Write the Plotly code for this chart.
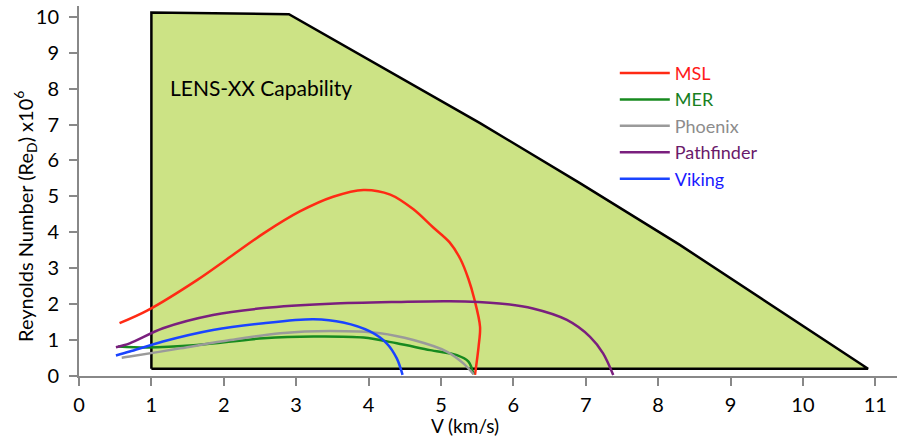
import plotly.graph_objects as go

# Capability envelope (LENS-XX)
cap_v = [1.0, 1.0, 2.9, 4.16, 5.54, 6.92, 8.30, 10.9, 1.0]
cap_re = [0.2, 10.12, 10.07, 8.62, 7.04, 5.37, 3.65, 0.2, 0.2]

msl_v = [0.56, 0.94, 1.63, 2.09, 2.55, 3.05, 3.51, 3.93, 4.30, 4.62, 4.89, 5.12, 5.27, 5.38, 5.46, 5.54, 5.52, 5.47]
msl_re = [1.47, 1.82, 2.67, 3.32, 3.97, 4.58, 4.99, 5.18, 5.05, 4.64, 4.14, 3.72, 3.25, 2.70, 2.15, 1.37, 0.82, 0.03]

mer_v = [0.54, 0.94, 1.63, 2.55, 3.24, 3.93, 4.39, 4.85, 5.22, 5.38, 5.45]
mer_re = [0.82, 0.79, 0.86, 1.05, 1.10, 1.07, 0.91, 0.72, 0.58, 0.40, 0.05]

phx_v = [0.59, 0.70, 1.40, 2.09, 2.78, 3.47, 4.16, 4.62, 5.08, 5.31, 5.45]
phx_re = [0.51, 0.54, 0.77, 1.00, 1.19, 1.25, 1.19, 1.00, 0.68, 0.35, 0.05]

pf_v = [0.51, 0.70, 1.16, 1.85, 2.55, 3.47, 4.39, 5.12, 5.81, 6.27, 6.74, 7.06, 7.24, 7.38]
pf_re = [0.80, 0.91, 1.33, 1.70, 1.89, 2.01, 2.06, 2.08, 2.02, 1.88, 1.56, 1.09, 0.63, 0.03]

vik_v = [0.51, 0.70, 1.16, 1.85, 2.55, 3.24, 3.65, 4.02, 4.25, 4.39, 4.47]
vik_re = [0.57, 0.68, 0.96, 1.28, 1.47, 1.58, 1.49, 1.24, 0.91, 0.49, 0.03]

x_ticks = list(range(0, 12))
y_ticks = list(range(0, 11))

series = [
    ("MSL", msl_v, msl_re, "#ff2a14", "#ff1a1a"),
    ("MER", mer_v, mer_re, "#178a1f", "#17801f"),
    ("Phoenix", phx_v, phx_re, "#9a9a9a", "#8c8c8c"),
    ("Pathfinder", pf_v, pf_re, "#7a1f7e", "#6a1a6a"),
    ("Viking", vik_v, vik_re, "#1a44ff", "#1a1aff"),
]

FONT = "Lato, 'Open Sans', sans-serif"

fig = go.Figure()
fig.add_trace(go.Scatter(
    x=cap_v, y=cap_re, mode="lines", fill="toself", fillcolor="#cce385",
    line=dict(color="black", width=2.5), showlegend=False, hoverinfo="skip"))

for i, (name, xs, ys, lc, tc) in enumerate(series):
    fig.add_trace(go.Scatter(
        x=xs, y=ys, mode="lines", line=dict(color=lc, width=2.5, shape="spline", smoothing=0.9),
        name=f"<span style='color:{tc}'>{name}</span>"))

fig.add_annotation(x=1.23, y=8.02, text="LENS-XX Capability", showarrow=False,
                   xanchor="left", yanchor="middle", font=dict(family=FONT, size=21, color="black"))

# axis titles as annotations (positioned like the reference)
fig.add_annotation(xref="paper", yref="paper", x=0.472, y=-0.135, yanchor="middle",
                   text="V (km/s)", showarrow=False, font=dict(family=FONT, size=19, color="black"))
fig.add_annotation(xref="paper", yref="paper", x=-0.066, y=0.43, textangle=-90,
                   xanchor="center", yanchor="middle",
                   text="Reynolds Number (Re<sub>D</sub>) x10<sup>6</sup>", showarrow=False,
                   font=dict(family=FONT, size=20, color="black"))

fig.update_layout(
    width=899, height=445,
    margin=dict(l=79, r=2, t=6, b=69),
    paper_bgcolor="white", plot_bgcolor="white",
    font=dict(family=FONT, size=20, color="black"),
    legend=dict(x=0.655, y=0.868, xanchor="left", yanchor="top", bgcolor="rgba(0,0,0,0)",
                font=dict(family=FONT, size=18), itemwidth=50),
    xaxis=dict(range=[0, 11.3], tickvals=x_ticks, ticks="outside", ticklen=8, tickwidth=2,
               tickcolor="#888", showline=True, linecolor="#888", linewidth=2, showgrid=False,
               zeroline=False, tickfont=dict(size=20), ticklabelstandoff=2),
    yaxis=dict(range=[0, 10.3], tickvals=y_ticks, ticks="outside", ticklen=8, tickwidth=2,
               tickcolor="#888", showline=True, linecolor="#888", linewidth=2, showgrid=False,
               zeroline=False, tickfont=dict(size=20), ticklabelstandoff=6),
)

fig.write_html("out.html")
